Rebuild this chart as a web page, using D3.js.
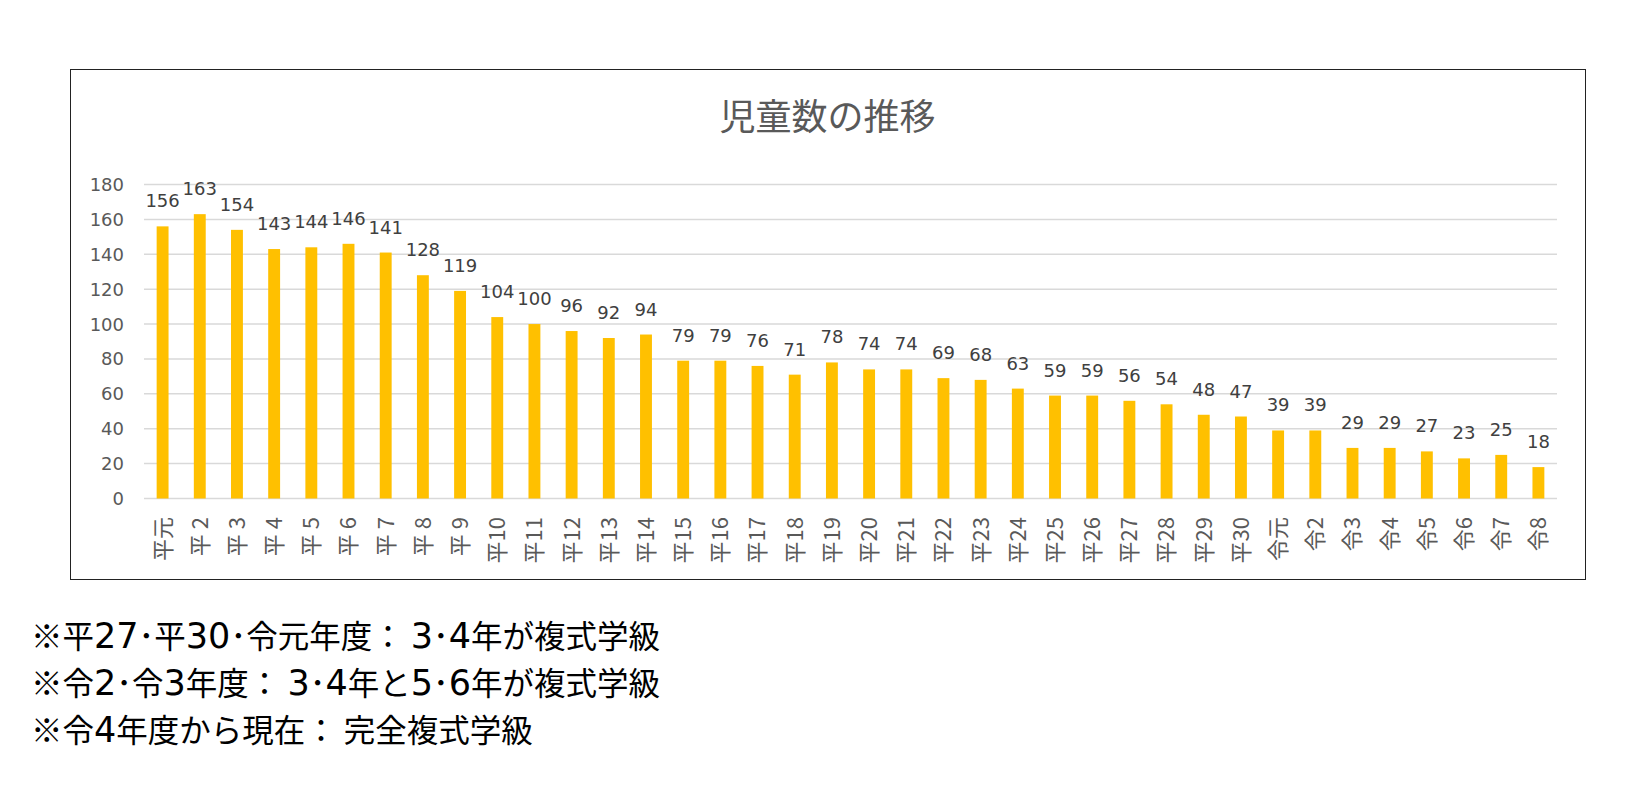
<!DOCTYPE html>
<html>
<head>
<meta charset="utf-8">
<script src="https://cdn.jsdelivr.net/npm/d3@7"></script>
<style>
  body { margin: 0; background: #fff; }
  svg text { font-family: "Noto Sans CJK JP", "Noto Sans", sans-serif; }
  svg .num { font-family: "DejaVu Sans", "Noto Sans CJK JP", sans-serif; }
</style>
</head>
<body>
<div id="chart"></div>
<script>
// 年度ラベル
const years = ['平元', '平 2', '平 3', '平 4', '平 5', '平 6', '平 7', '平 8', '平 9',
  '平10', '平11', '平12', '平13', '平14', '平15', '平16', '平17', '平18', '平19', '平20',
  '平21', '平22', '平23', '平24', '平25', '平26', '平27', '平28', '平29', '平30',
  '令元', '令2', '令3', '令4', '令5', '令6', '令7', '令8'];
// 児童数
const pupils = [156, 163, 154, 143, 144, 146, 141, 128, 119, 104, 100, 96, 92, 94,
  79, 79, 76, 71, 78, 74, 74, 69, 68, 63, 59, 59, 56, 54, 48, 47,
  39, 39, 29, 29, 27, 23, 25, 18];
const yTicks = [0, 20, 40, 60, 80, 100, 120, 140, 160, 180];
const title = '児童数の推移';
const notes = [
  '※平27･平30･令元年度： 3･4年が複式学級',
  '※令2･令3年度： 3･4年と5･6年が複式学級',
  '※令4年度から現在： 完全複式学級'
];

const width = 1645, height = 800;
const svg = d3.select('#chart').append('svg')
  .attr('width', width)
  .attr('height', height);

svg.append('rect').attr('width', width).attr('height', height).attr('fill', '#fff');

// chart area frame
const frame = {x: 70, y: 69, w: 1515, h: 510};
svg.append('rect')
  .attr('x', frame.x + 0.5).attr('y', frame.y + 0.5)
  .attr('width', frame.w).attr('height', frame.h)
  .attr('fill', 'none').attr('stroke', '#222').attr('stroke-width', 1);

const plot = {left: 144, right: 1557, top: 184.5, bottom: 498.5};

const x = d3.scaleBand()
  .domain(years)
  .range([plot.left, plot.right])
  .paddingInner(0.68)
  .paddingOuter(0.34);

const y = d3.scaleLinear()
  .domain([0, 180])
  .range([plot.bottom, plot.top]);

// grid lines
svg.append('g')
  .selectAll('line')
  .data(yTicks)
  .join('line')
  .attr('x1', plot.left).attr('x2', plot.right)
  .attr('y1', d => y(d)).attr('y2', d => y(d))
  .attr('stroke', '#d9d9d9').attr('stroke-width', 1.5);

// y axis labels
svg.append('g')
  .selectAll('text')
  .data(yTicks)
  .join('text')
  .attr('class', 'num')
  .attr('x', 124)
  .attr('y', d => y(d))
  .attr('dy', '0.36em')
  .attr('text-anchor', 'end')
  .attr('fill', '#595959')
  .style('font-size', '18px')
  .text(d => d);

// bars
svg.append('g')
  .selectAll('rect')
  .data(pupils)
  .join('rect')
  .attr('x', (d, i) => x(years[i]))
  .attr('y', d => y(d))
  .attr('width', x.bandwidth())
  .attr('height', d => y(0) - y(d))
  .attr('fill', '#ffc000');

// data labels
svg.append('g')
  .selectAll('text')
  .data(pupils)
  .join('text')
  .attr('class', 'num')
  .attr('x', (d, i) => x(years[i]) + x.bandwidth() / 2)
  .attr('y', d => y(d) - 19)
  .attr('text-anchor', 'middle')
  .attr('fill', '#404040')
  .style('font-size', '18px')
  .text(d => d);

// x axis labels, rotated
svg.append('g')
  .selectAll('text')
  .data(years)
  .join('text')
  .attr('transform', d => `translate(${x(d) + x.bandwidth() / 2},517) rotate(-90)`)
  .attr('dy', '0.36em')
  .attr('text-anchor', 'end')
  .attr('fill', '#595959')
  .style('font-size', '22px')
  .text(d => d);

// title
svg.append('text')
  .attr('x', frame.x + frame.w / 2)
  .attr('y', 130)
  .attr('text-anchor', 'middle')
  .attr('fill', '#595959')
  .style('font-size', '36px')
  .text(title);

// notes under chart - digits drawn a little larger, as in the original
const noteText = svg.append('g')
  .selectAll('text')
  .data(notes)
  .join('text')
  .attr('x', 31)
  .attr('y', (d, i) => 648 + i * 47)
  .attr('fill', '#000')
  .style('font-size', '31.5px');

noteText.selectAll('tspan')
  .data(d => d.match(/\d+|[^\d]+/g))
  .join('tspan')
  .attr('class', d => /\d/.test(d) ? 'num' : null)
  .style('font-size', d => /\d/.test(d) ? '35px' : null)
  .text(d => d);
</script>
</body>
</html>
